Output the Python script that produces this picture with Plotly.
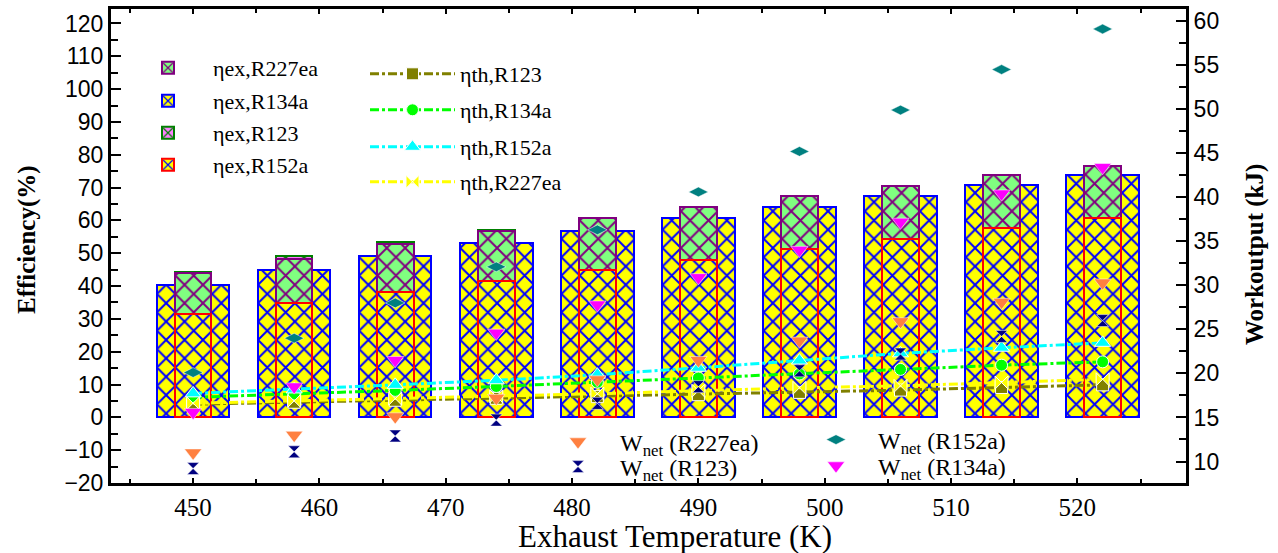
import plotly.graph_objects as go

# ---------------- data ----------------
T = [450, 458, 466, 474, 482, 490, 498, 506, 514, 522]

ex_R134a = [40.3, 44.9, 49.1, 53.1, 56.8, 60.6, 64.2, 67.5, 70.8, 73.8]
ex_R123 = [44.3, 49.1, 53.4, 57.2, 60.7, 64.0, 67.3, 70.2, 73.4, 76.2]
ex_R227ea = [43.9, 48.2, 52.8, 56.9, 60.7, 64.2, 67.5, 70.5, 73.7, 76.5]
ex_R152a = [31.5, 34.9, 38.3, 41.5, 44.8, 47.9, 51.3, 54.4, 57.7, 60.8]

th_R123 = [4.0, 4.6, 5.2, 5.8, 6.3, 6.9, 7.6, 8.3, 9.1, 9.9]
th_R134a = [6.1, 7.1, 8.2, 9.4, 10.7, 12.0, 13.2, 14.6, 15.9, 16.9]
th_R152a = [7.3, 8.5, 9.9, 11.3, 13.0, 15.1, 17.3, 19.5, 21.2, 22.7]
th_R227ea = [4.3, 5.0, 5.7, 6.4, 7.2, 8.1, 9.0, 9.6, 10.6, 11.6]

W_R227ea = [11.0, 13.0, 15.1, 17.2, 19.3, 21.5, 23.7, 25.9, 28.1, 30.3]
W_R123 = [9.2, 11.1, 12.9, 14.7, 16.6, 18.5, 20.3, 22.2, 24.2, 26.0]
W_R134a = [15.6, 18.5, 21.5, 24.6, 27.8, 30.9, 34.0, 37.2, 40.4, 43.4]
W_R152a = [20.1, 24.0, 28.0, 32.1, 36.3, 40.6, 45.2, 49.9, 54.5, 59.1]

left_ticks = [-20, -10, 0, 10, 20, 30, 40, 50, 60, 70, 80, 90, 100, 110, 120]
right_ticks = [10, 15, 20, 25, 30, 35, 40, 45, 50, 55, 60]
x_ticks = [450, 460, 470, 480, 490, 500, 510, 520]

# ---------------- geometry helpers (pixel -> paper) ----------------
W, H = 1278, 553
ML, MR, MT, MB = 111, 92, 9, 70
PW, PH = W - ML - MR, H - MT - MB


def px(xp):
    return (xp - ML) / PW


def py(yp):
    return 1 - (yp - MT) / PH


SERIF = "Liberation Serif"
SANS = "Liberation Sans"

fig = go.Figure()

WIDE, NARROW = 5.74, 2.9


def add_bar(name, y, fill, hatch, edge, width, legend):
    fig.add_trace(go.Bar(
        x=T, y=y, width=width, name=name, legend=legend,
        marker=dict(color=fill, line=dict(color=edge, width=2),
                    pattern=dict(shape="x", fgcolor=hatch, bgcolor=fill,
                                 fgopacity=1, fillmode="replace",
                                 size=13, solidity=0.28)),
    ))


add_bar("ηex,R134a", ex_R134a, "#FFFF00", "#0000FF", "#0000FF", WIDE, "legend2")
add_bar("ηex,R123", ex_R123, "#FF80FF", "#008000", "#008000", NARROW, "legend3")
add_bar("ηex,R227ea", ex_R227ea, "#80FF80", "#800080", "#800080", NARROW, "legend")
add_bar("ηex,R152a", ex_R152a, "#FFFF00", "#0000FF", "#FF0000", NARROW, "legend4")


def add_line(name, y, color, symbol, size, legend):
    fig.add_trace(go.Scatter(
        x=T, y=y, name=name, legend=legend, mode="lines+markers",
        line=dict(color=color, width=3, dash="dashdot"),
        marker=dict(symbol=symbol, size=size, color=color,
                    line=dict(color="white", width=1)),
    ))


add_line("ηth,R123", th_R123, "#808000", "square", 12, "legend5")
add_line("ηth,R134a", th_R134a, "#00FF00", "circle", 12, "legend6")
add_line("ηth,R152a", th_R152a, "#00FFFF", "triangle-up", 14, "legend7")
add_line("ηth,R227ea", th_R227ea, "#FFFF00", "bowtie", 13, "legend8")


def add_pts(name, y, color, symbol, size, legend):
    fig.add_trace(go.Scatter(
        x=T, y=y, name=name, legend=legend, mode="markers", yaxis="y2",
        marker=dict(symbol=symbol, size=size, color=color,
                    line=dict(color="white", width=0.5)),
    ))


add_pts("W<sub>net</sub> (R227ea)", W_R227ea, "#FF8040", "triangle-down", 15, "legend9")
add_pts("W<sub>net</sub> (R123)", W_R123, "#000080", "hourglass", 12, "legend10")
add_pts("W<sub>net</sub> (R152a)", W_R152a, "#008080", "diamond-wide", 14, "legend11")
add_pts("W<sub>net</sub> (R134a)", W_R134a, "#FF00FF", "triangle-down", 15, "legend12")

# ---------------- legends ----------------
legend_specs = {
    # name: (text_start_px, center_y_px, itemwidth, fontsize)
    "legend": (213, 68, 80, 22),
    "legend2": (213, 101, 80, 22),
    "legend3": (213, 133, 80, 22),
    "legend4": (213, 165, 80, 22),
    "legend5": (460, 74, 85, 22),
    "legend6": (460, 110, 85, 22),
    "legend7": (460, 147, 85, 22),
    "legend8": (460, 182, 85, 22),
    "legend9": (620, 442, 74, 24),
    "legend10": (620, 467, 74, 24),
    "legend11": (878, 440, 74, 24),
    "legend12": (878, 466, 74, 24),
}
legend_layout = {}
for key, (tx, cy, iw, fs) in legend_specs.items():
    legend_layout[key] = dict(
        x=px(tx - iw - 10), y=py(cy), xanchor="left", yanchor="middle",
        bgcolor="rgba(0,0,0,0)", borderwidth=0, itemwidth=iw,
        font=dict(family=SERIF, size=fs, color="black"),
        itemclick=False, itemdoubleclick=False,
    )

axis_common = dict(showline=True, linecolor="black", linewidth=3,
                   showgrid=False, zeroline=False, ticks="inside",
                   tickcolor="black", tickwidth=1.5, automargin=False)

fig.update_layout(
    width=W, height=H,
    margin=dict(l=ML, r=MR, t=MT, b=MB, autoexpand=False),
    paper_bgcolor="white", plot_bgcolor="white",
    barmode="overlay", bargap=0,
    xaxis=dict(**axis_common, range=[443.5, 528.6], tickvals=x_ticks,
               ticklen=5, mirror="ticks",
               minor=dict(ticks="inside", dtick=5, tick0=450, ticklen=4,
                          tickcolor="black", tickwidth=1.5),
               tickfont=dict(family=SERIF, size=25, color="black")),
    yaxis=dict(**axis_common, range=[-20, 124.4], tickvals=left_ticks,
               ticklen=10,
               minor=dict(ticks="inside", dtick=5, tick0=0, ticklen=7,
                          tickcolor="black", tickwidth=1.5),
               tickfont=dict(family=SANS, size=23, color="black")),
    yaxis2=dict(**axis_common, overlaying="y", side="right",
                range=[7.56, 61.37], tickvals=right_ticks, ticklen=10,
                minor=dict(ticks="inside", dtick=2.5, tick0=10, ticklen=7,
                           tickcolor="black", tickwidth=1.5),
                tickfont=dict(family=SANS, size=23, color="black")),
    showlegend=True,
    **legend_layout,
    annotations=[
        dict(text="Exhaust Temperature (K)", xref="paper", yref="paper",
             x=px(675), y=py(536), xanchor="center", yanchor="middle",
             showarrow=False, font=dict(family=SERIF, size=31, color="black")),
        dict(text="<b>Efficiency(%)</b>", xref="paper", yref="paper",
             x=px(27), y=py(240), xanchor="center", yanchor="middle",
             textangle=-90, showarrow=False,
             font=dict(family=SERIF, size=25, color="black")),
        dict(text="<b>Workoutput (kJ)</b>", xref="paper", yref="paper",
             x=px(1255), y=py(255), xanchor="center", yanchor="middle",
             textangle=-90, showarrow=False,
             font=dict(family=SERIF, size=25, color="black")),
    ],
)

fig.write_html("out.html",
               config={"displayModeBar": False},
               post_script="document.body.style.margin='0';"
                           "document.body.style.overflow='hidden';")
